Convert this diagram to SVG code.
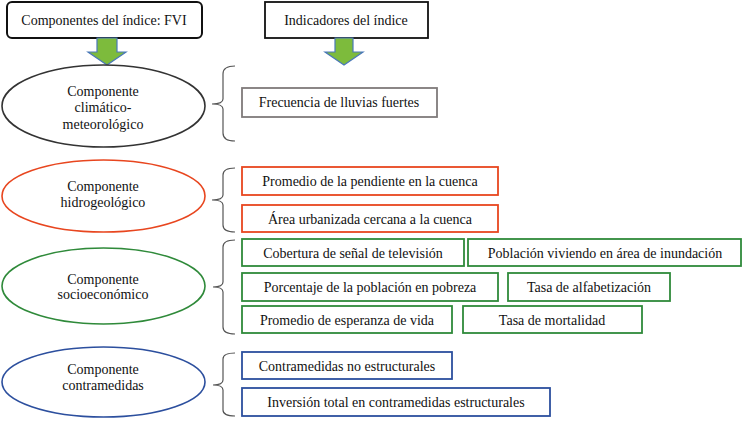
<svg xmlns="http://www.w3.org/2000/svg" width="743" height="421" viewBox="0 0 743 421">
<style>
text{font-family:"Liberation Serif","Times New Roman",serif;font-size:14px;fill:#111;text-anchor:middle}
.ell{fill:#fff;stroke-width:1.6}
.box{fill:#fff;stroke-width:1.8}
.red{stroke:#e8461f}
.grn{stroke:#2f8a3a}
.blu{stroke:#2c4f9e}
.brace{fill:none;stroke:#555;stroke-width:1.2}
.arr{fill:#7dbb3c;stroke:#4a78b8;stroke-width:1.2}
</style>
<rect width="743" height="421" fill="#fff"/>
<g id="hdr-componentes">
<rect x="7" y="2" width="195" height="36" rx="5" fill="#fff" stroke="#111" stroke-width="2"/>
<text x="104" y="25">Componentes del índice: FVI</text>
</g>
<g id="hdr-indicadores">
<rect x="265" y="2" width="163" height="36" fill="#fff" stroke="#111" stroke-width="1.8"/>
<text x="346" y="25">Indicadores del índice</text>
</g>
<g id="connectors">
<path class="arr" d="M97,38 L117,38 L117,52 L126,52 L107,65 L88,52 L97,52 Z"/>
<path class="arr" d="M335,38 L353,38 L353,52 L363,52 L344,65 L325,52 L335,52 Z"/>
<path class="brace" d="M235,66 Q223,66 223,74 L223,99 Q223,104 212,104 Q223,104 223,109 L223,133 Q223,141 235,141"/>
<path class="brace" d="M235,168 Q223,168 223,175 L223,195 Q223,200 212,200 Q223,200 223,205 L223,225 Q223,232 235,232"/>
<path class="brace" d="M235,240 Q223,240 223,247 L223,282 Q223,287 213,287 Q223,287 223,292 L223,327 Q223,334 235,334"/>
<path class="brace" d="M235,353 Q223,353 223,359 L223,380 Q223,385 213,385 Q223,385 223,390 L223,410 Q223,416 235,416"/>
</g>
<g id="comp-climatico">
<ellipse class="ell" cx="103.5" cy="106" rx="101.5" ry="41" stroke="#333"/>
<text x="103" y="96">Componente</text>
<text x="103" y="112">climático-</text>
<text x="103" y="129">meteorológico</text>
</g>
<g id="comp-hidro">
<ellipse class="ell red" cx="103.5" cy="196" rx="101.5" ry="36"/>
<text x="103" y="191">Componente</text>
<text x="103" y="207">hidrogeológico</text>
</g>
<g id="comp-socio">
<ellipse class="ell grn" cx="103.5" cy="286" rx="101.5" ry="38"/>
<text x="103" y="284">Componente</text>
<text x="103" y="299">socioeconómico</text>
</g>
<g id="comp-contra">
<ellipse class="ell blu" cx="103.5" cy="382" rx="101.5" ry="35"/>
<text x="103" y="374">Componente</text>
<text x="103" y="390">contramedidas</text>
</g>
<g id="ind-frecuencia">
<rect class="box" x="242" y="88" width="195" height="29" stroke="#7f7a7a"/>
<text x="339" y="107">Frecuencia de lluvias fuertes</text>
</g>
<g id="ind-pendiente">
<rect class="box red" x="242" y="167" width="256" height="28"/>
<text x="370" y="186">Promedio de la pendiente en la cuenca</text>
</g>
<g id="ind-area">
<rect class="box red" x="242" y="205" width="256" height="27"/>
<text x="370" y="223.5">Área urbanizada cercana a la cuenca</text>
</g>
<g id="ind-cobertura">
<rect class="box grn" x="242" y="239" width="222" height="27"/>
<text x="353" y="257.5">Cobertura de señal de televisión</text>
</g>
<g id="ind-poblacion">
<rect class="box grn" x="468" y="239" width="273" height="27"/>
<text x="605" y="257.5">Población viviendo en área de inundación</text>
</g>
<g id="ind-pobreza">
<rect class="box grn" x="242" y="273" width="256" height="28"/>
<text x="370" y="292">Porcentaje de la población en pobreza</text>
</g>
<g id="ind-alfabetizacion">
<rect class="box grn" x="508" y="273" width="162" height="28"/>
<text x="589" y="292">Tasa de alfabetización</text>
</g>
<g id="ind-esperanza">
<rect class="box grn" x="242" y="306" width="210" height="27"/>
<text x="347" y="324.5">Promedio de esperanza de vida</text>
</g>
<g id="ind-mortalidad">
<rect class="box grn" x="463" y="306" width="179" height="27"/>
<text x="552" y="324.5">Tasa de mortalidad</text>
</g>
<g id="ind-noestructurales">
<rect class="box blu" x="242" y="352" width="210" height="27"/>
<text x="347" y="370.5">Contramedidas no estructurales</text>
</g>
<g id="ind-inversion">
<rect class="box blu" x="242" y="388" width="308" height="28"/>
<text x="396" y="407">Inversión total en contramedidas estructurales</text>
</g>
</svg>
